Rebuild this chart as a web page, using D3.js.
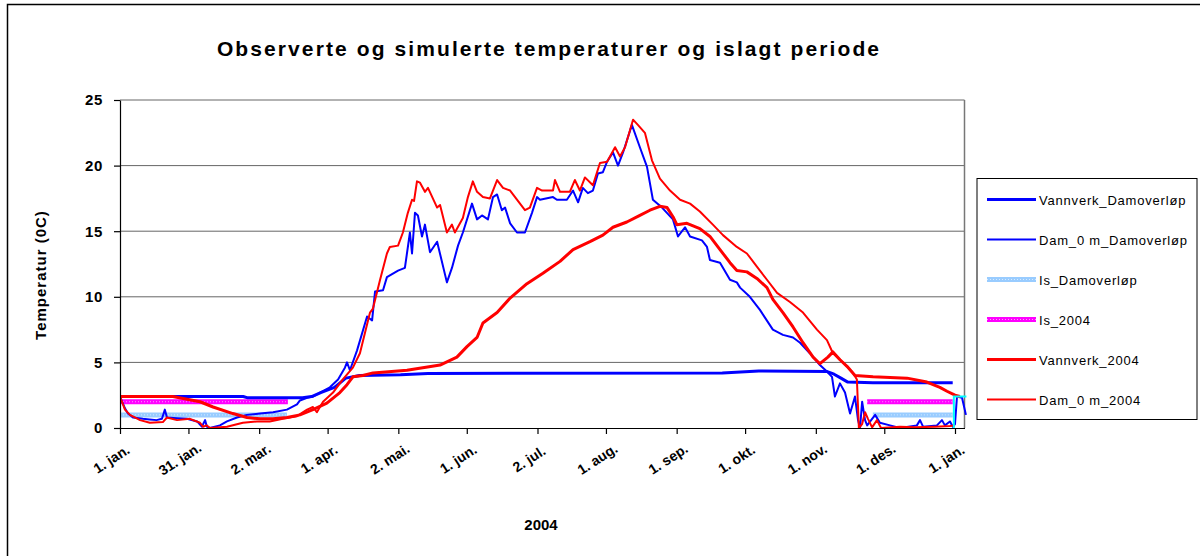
<!DOCTYPE html>
<html>
<head>
<meta charset="utf-8">
<script src="https://cdn.jsdelivr.net/npm/d3@7"></script>
<style>
  body { margin: 0; background: #fff; }
  svg { font-family: "Liberation Sans", Arial, sans-serif; }
</style>
</head>
<body>
<svg id="chart" width="1200" height="556"></svg>
<script>
// day offsets from 1. jan. 2004 and temperature (0C)
const vannverkDam = [[0,2.4],[54,2.4],[56,2.3],[80,2.3],[84,2.4],[88,2.7],[94,3.1],[99,3.8],[105,4.0],[123,4.05],[135,4.15],
  [264,4.2],[280,4.35],[310,4.3],[313,4.1],[316,3.8],[319,3.5],[330,3.45],[365,3.45]];

const dam0Dam = [[0,2.4],[2.2,1.5],[3.5,1.1],[5.7,0.8],[10,0.7],[13,0.65],[16,0.6],[18.4,0.7],[19.7,1.4],[20.6,0.8],[25,0.75],
  [29.4,0.7],[33.8,0.5],[35.9,0.1],[37.3,0.6],[38.1,0.1],[39.4,0],[43.8,0.2],[46.9,0.5],[51.3,0.8],[55.7,1.0],[61.4,1.1],
  [67.1,1.2],[73.2,1.4],[77.6,1.8],[78.9,2.1],[82,2.3],[84.6,2.4],[87.7,2.7],[92,3.1],[95.6,3.7],[98.6,4.6],[99.5,5.0],
  [100.8,4.4],[103.9,5.9],[108.3,8.5],[110.5,8.2],[111.8,10.4],[115.3,10.5],[117,11.5],[121.9,12.0],[124.9,12.2],[127.1,14.9],
  [128,13.3],[129.3,16.4],[130.6,16.2],[132.4,14.6],[133.7,15.5],[135.9,13.4],[139,14.2],[143.3,11.1],[145.5,12.2],[148.2,13.9],
  [150.3,14.9],[154.3,17.1],[156.5,15.9],[158.7,16.2],[161.3,15.9],[163.5,17.6],[165.3,17.8],[167.4,16.6],[168.8,16.8],[171,15.6],
  [174,14.9],[177.5,14.9],[180.6,16.4],[182.8,17.6],[184.1,17.4],[189.8,17.6],[191.5,17.4],[195.9,17.4],[198.6,18.1],[200.8,17.2],
  [202.9,18.3],[205.1,17.9],[207.3,18.1],[209.5,19.4],[211.7,19.5],[213.5,20.3],[216.1,21.0],[218.3,20.0],[220.5,21.0],[224.4,23.1],
  [227.9,21.4],[231,19.9],[233.6,17.4],[237.6,16.8],[242.4,15.9],[244.6,14.6],[247.7,15.3],[249.9,14.6],[255.1,14.3],[257.3,13.8],
  [258.6,12.8],[263,12.6],[267.4,11.3],[270.4,11.1],[271.8,10.7],[276.1,10.0],[280.5,9.0],[286.2,7.5],[290.6,7.1],[295,6.9],
  [298.1,6.5],[302.4,5.7],[306.8,4.8],[309.9,4.3],[312.1,3.9],[313.4,2.4],[315.6,3.4],[317.8,2.7],[320,1.1],[322.2,2.4],[323.5,0.6],
  [324.4,0],[325.3,2.0],[326.6,0.6],[327.5,0.2],[331,1.0],[333.1,0.4],[337.5,0.2],[341.9,0],[349.3,0.2],[350.7,0.6],[352,0.1],
  [358.1,0.2],[360.3,0.6],[361.6,0.2],[363.8,0.5],[365.1,0.1],[366,0.3],[366.9,2.4],[369.1,2.3],[370.8,1.0]];

const isDam = [[0,1.0],[73.2,1.0],[73.3,null],[329.9,null],[330,1.0],[365,1.0]];

const is2004 = [[0,2.0],[73.6,2.0],[73.7,null],[327.4,null],[327.5,2.0],[365,2.0]];

const vannverk2004 = [[0,2.4],[23.2,2.4],[35.1,2.0],[40.8,1.6],[49.5,1.1],[55.7,0.8],[61.4,0.7],[67.1,0.7],[73.2,0.8],[78.9,1.0],
  [84.6,1.4],[90.7,1.9],[96.4,2.7],[99.5,3.3],[102.1,3.9],[106.5,4.0],[110.9,4.2],[125.8,4.4],[140.3,4.8],[147.7,5.4],[152.1,6.2],
  [156.5,6.9],[159.1,8.0],[165.3,8.8],[171,9.9],[178.4,11.0],[185.4,11.8],[192.9,12.7],[198.6,13.6],[206,14.2],[211.7,14.7],
  [216.1,15.3],[222.2,15.7],[227.9,16.2],[232.3,16.6],[236.7,16.9],[239.8,16.8],[242.4,16.1],[244.1,15.5],[248.5,15.6],[254.2,15.2],
  [258.6,14.6],[263,13.6],[267.4,12.6],[270.4,12.0],[274.8,11.9],[279.2,11.4],[283.6,10.7],[286.2,9.8],[290.6,8.8],[295,7.7],
  [299.4,6.5],[303.8,5.4],[306.8,4.9],[310.3,5.4],[312.5,5.8],[315.6,5.2],[318.7,4.7],[322.2,4.0],[330.1,3.9],[345,3.8],
  [353.7,3.5],[359.4,3.1],[362.5,2.8],[366,2.5],[368.2,2.4]];

const dam02004 = [[0,2.4],[2.2,1.4],[4.4,1.0],[8.8,0.6],[13.1,0.4],[18.8,0.45],[20.6,0.8],[25,0.6],[30.7,0.7],[35.1,0.4],[36.4,0.1],
  [38.1,0.2],[39.4,0],[46.9,0.1],[53.9,0.4],[60,0.5],[65.7,0.5],[71.4,0.7],[77.6,0.9],[82,1.4],[84.6,1.6],[86.3,1.2],[89,2.0],
  [93.4,2.7],[97.7,3.7],[102.1,4.6],[105.2,5.7],[109.6,8.8],[110.9,9.1],[114,11.3],[117,13.3],[118.3,13.8],[121.9,13.9],[124,14.9],
  [126.2,16.4],[128,17.4],[128.9,17.3],[130.2,18.8],[131.5,18.7],[133.7,18.0],[135,18.3],[139,16.8],[140.3,17.0],[143.3,14.9],
  [145.5,15.5],[146.8,14.9],[150.3,16.0],[152.5,17.6],[154.7,18.8],[156.5,18.0],[159.1,17.6],[162.2,17.5],[165.3,18.9],[167.9,18.3],
  [171,18.1],[174,17.4],[177.5,16.6],[179.7,16.8],[182.8,18.3],[185,18.1],[189.8,18.1],[190.7,18.9],[192.9,18.0],[197.2,18.0],
  [199.4,18.9],[201.6,18.1],[203.8,19.1],[207.3,18.5],[210.4,20.2],[213.5,20.3],[217,21.4],[219.2,20.7],[221.4,21.4],[224.9,23.5],
  [227,23.1],[230.1,22.5],[233.2,20.4],[236.7,19.0],[241.1,18.1],[245.5,17.4],[249.9,17.1],[254.2,16.5],[259.9,15.5],[264.3,14.7],
  [270.4,13.8],[274.8,13.3],[279.2,12.3],[283.6,11.3],[288,10.3],[293.7,9.6],[299.4,8.8],[305.5,7.5],[309.9,6.7],[312.5,5.7],
  [316.9,5.0],[321.3,4.2],[323,3.7],[323.9,0],[325.3,0.3],[326.6,1.2],[327.9,0.7],[329.7,0.05],[331.8,0.6],[333.6,0],[341.9,0.1],
  [348.5,0.05],[357.3,0.1],[363.8,0.15],[366,0.2]];

// short cyan piece at the year end, no legend entry
const isEnd = [[365.5,0],[365.5,2.4],[371,2.4]];

const tickDays = [0,30,61,91,122,152,183,213,244,274,305,335,366];
const tickLabels = ["1. jan.","31. jan.","2. mar.","1. apr.","2. mai.","1. jun.","2. jul.","1. aug.","1. sep.","1. okt.","1. nov.","1. des.","1. jan."];
const yTicks = [0,5,10,15,20,25];

const series = [
  {name: "Vannverk_Damoverløp", data: vannverkDam, color: "#0000ff", width: 3},
  {name: "Dam_0 m_Damoverløp", data: dam0Dam, color: "#0000ff", width: 2},
  {name: "Is_Damoverløp", data: isDam, color: "#99ccff", width: 5, dots: "#d6ebff"},
  {name: "Is_2004", data: is2004, color: "#ff00ff", width: 5, dots: "#ff99ff"},
  {name: "Vannverk_2004", data: vannverk2004, color: "#ff0000", width: 3},
  {name: "Dam_0 m_2004", data: dam02004, color: "#ff0000", width: 2}
];
// drawing order (back to front)
const drawOrder = [2, 3, 0, 1, 5, 4];

const svg = d3.select("#chart");
const start = new Date(2004, 0, 1);
const toDate = (d) => d3.timeHour.offset(start, d * 24);

const plotLeft = 120, plotRight = 964.5, plotTop = 100, plotBottom = 428;

const x = d3.scaleTime()
  .domain([start, toDate(370.2)])
  .range([plotLeft, plotRight]);
const y = d3.scaleLinear()
  .domain([0, 25])
  .range([plotBottom, plotTop]);

// outer frame
svg.append("rect")
  .attr("x", 7.5).attr("y", 4.5)
  .attr("width", 1200).attr("height", 600)
  .attr("fill", "none").attr("stroke", "#000").attr("stroke-width", 1.5);

// title
svg.append("text")
  .attr("x", 549).attr("y", 56)
  .attr("text-anchor", "middle")
  .attr("font-size", 21).attr("font-weight", "bold")
  .attr("letter-spacing", 2.1)
  .text("Observerte og simulerte temperaturer og islagt periode");

// gridlines
svg.append("g")
  .selectAll("line")
  .data(yTicks.slice(1))
  .join("line")
  .attr("x1", plotLeft).attr("x2", plotRight)
  .attr("y1", (d) => y(d)).attr("y2", (d) => y(d))
  .attr("stroke", "#666").attr("stroke-width", 1);

// plot area right border
svg.append("line")
  .attr("x1", plotRight).attr("x2", plotRight)
  .attr("y1", plotTop).attr("y2", plotBottom)
  .attr("stroke", "#777").attr("stroke-width", 1.5);

svg.append("clipPath").attr("id", "clip")
  .append("rect")
  .attr("x", plotLeft).attr("y", plotTop)
  .attr("width", plotRight - plotLeft + 4).attr("height", plotBottom - plotTop + 1);

const line = d3.line()
  .defined((d) => d[1] !== null)
  .x((d) => x(toDate(d[0])))
  .y((d) => y(d[1]));

const plot = svg.append("g").attr("clip-path", "url(#clip)");

drawOrder.forEach((i) => {
  const s = series[i];
  plot.append("path")
    .datum(s.data)
    .attr("d", line)
    .attr("fill", "none")
    .attr("stroke", s.color)
    .attr("stroke-width", s.width)
    .attr("stroke-linejoin", "round");
  if (s.dots) {
    plot.append("path")
      .datum(s.data)
      .attr("d", line)
      .attr("fill", "none")
      .attr("stroke", s.dots)
      .attr("stroke-width", 1)
      .attr("stroke-dasharray", "1,2");
  }
});

plot.append("path")
  .datum(isEnd)
  .attr("d", line)
  .attr("fill", "none")
  .attr("stroke", "#00ffff")
  .attr("stroke-width", 2);

// axes
const xAxis = svg.append("g")
  .attr("transform", `translate(0,${plotBottom})`)
  .call(d3.axisBottom(x)
    .tickValues(tickDays.map(toDate))
    .tickFormat((d, i) => tickLabels[i])
    .tickSize(6)
    .tickSizeOuter(0));
xAxis.selectAll("text")
  .attr("font-size", 14).attr("font-weight", "bold")
  .attr("font-family", "Liberation Sans, Arial, sans-serif")
  .attr("fill", "#000")
  .attr("text-anchor", "middle")
  .attr("y", 0).attr("dy", "0.35em")
  .attr("transform", "translate(-9,31) rotate(-33)");

const yAxis = svg.append("g")
  .attr("transform", `translate(${plotLeft},0)`)
  .call(d3.axisLeft(y)
    .tickValues(yTicks)
    .tickSize(6)
    .tickSizeOuter(0));
yAxis.selectAll("text")
  .attr("font-size", 15).attr("font-weight", "bold")
  .attr("font-family", "Liberation Sans, Arial, sans-serif")
  .attr("letter-spacing", 0.6)
  .attr("fill", "#000")
  .attr("x", -17);

svg.selectAll(".domain, .tick line").attr("stroke", "#000").attr("stroke-width", 1.2);

// axis titles
svg.append("text")
  .attr("transform", "translate(46,275) rotate(-90)")
  .attr("text-anchor", "middle")
  .attr("font-size", 15).attr("font-weight", "bold")
  .attr("letter-spacing", 1)
  .text("Temperatur (0C)");

svg.append("text")
  .attr("x", 541).attr("y", 530)
  .attr("text-anchor", "middle")
  .attr("font-size", 15).attr("font-weight", "bold")
  .text("2004");

// legend
const legend = svg.append("g");
legend.append("rect")
  .attr("x", 977).attr("y", 178.5)
  .attr("width", 220).attr("height", 241)
  .attr("fill", "#fff").attr("stroke", "#000").attr("stroke-width", 1);

const item = legend.selectAll("g.item")
  .data(series)
  .join("g")
  .attr("class", "item")
  .attr("transform", (d, i) => `translate(0,${199.5 + i * 40})`);

item.append("line")
  .attr("x1", 987).attr("x2", 1036)
  .attr("stroke", (d) => d.color)
  .attr("stroke-width", (d) => d.width);
item.filter((d) => d.dots)
  .append("line")
  .attr("x1", 987).attr("x2", 1036)
  .attr("stroke", (d) => d.dots)
  .attr("stroke-width", 1)
  .attr("stroke-dasharray", "1,2");

item.append("text")
  .attr("x", 1039).attr("y", 5)
  .attr("font-size", 13)
  .attr("letter-spacing", 0.8)
  .text((d) => d.name);
</script>
</body>
</html>
